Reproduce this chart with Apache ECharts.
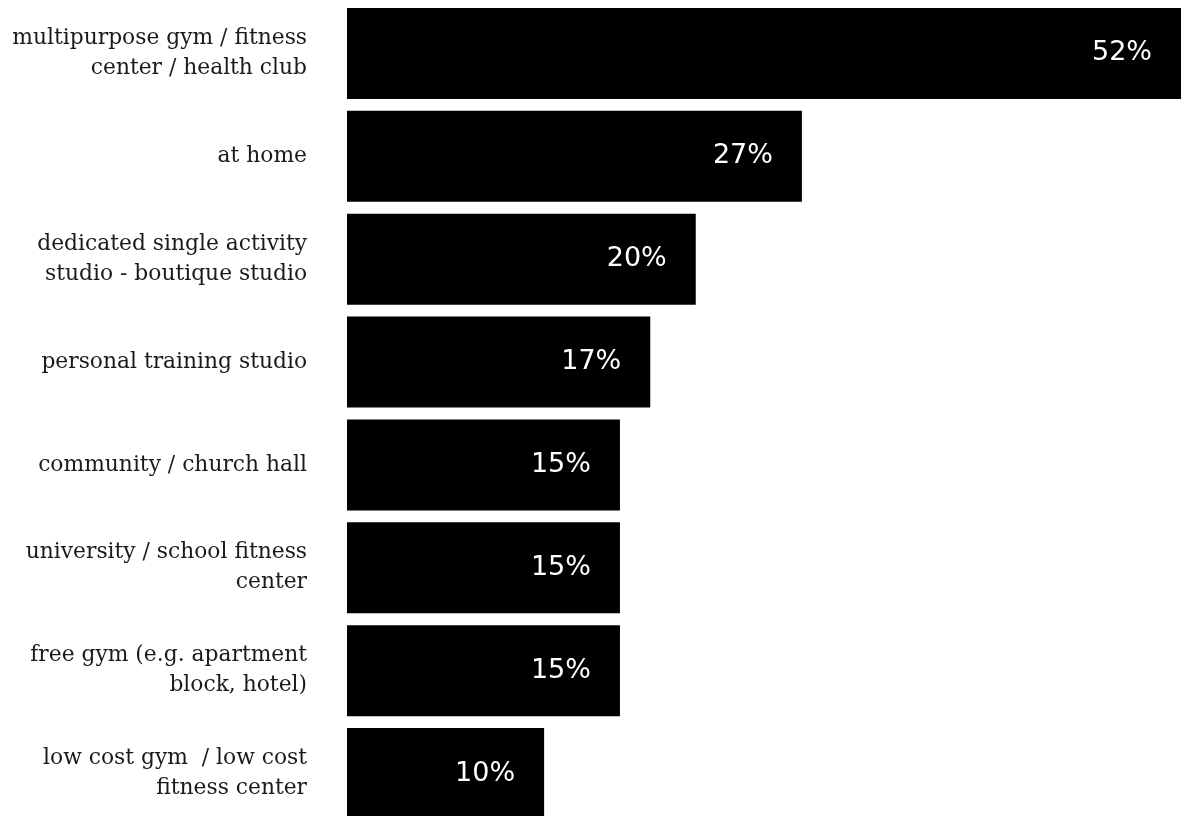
<!DOCTYPE html>
<html>
<head>
<meta charset="utf-8">
<script src="https://cdn.jsdelivr.net/npm/echarts@6/dist/echarts.min.js"></script>
<style>
html,body{margin:0;padding:0;background:#fff;}
#chart{width:1181px;height:816px;}
</style>
</head>
<body>
<div id="chart"></div>
<script>
const categories = [
  "multipurpose gym / fitness\ncenter / health club",
  "at home",
  "dedicated single activity\nstudio - boutique studio",
  "personal training studio",
  "community / church hall",
  "university / school fitness\ncenter",
  "free gym (e.g. apartment\nblock, hotel)",
  "low cost gym  / low cost\nfitness center"
];
const values = [52, 27, 20, 17, 15, 15, 15, 10];

const chart = echarts.init(document.getElementById('chart'), null, {renderer: 'canvas'});
chart.setOption({
  animation: false,
  backgroundColor: '#ffffff',
  grid: {left: 347, right: 0, top: 2, height: 823, containLabel: false, outerBoundsMode: 'none'},
  xAxis: {
    type: 'value',
    min: -3,
    max: 52,
    startValue: -3,
    show: false
  },
  yAxis: {
    type: 'category',
    data: categories,
    inverse: true,
    axisLine: {show: false},
    axisTick: {show: false},
    splitLine: {show: false},
    axisLabel: {
      margin: 40,
      align: 'right',
      color: '#1a1a1a',
      fontFamily: 'DejaVu Serif',
      fontSize: 21.8,
      lineHeight: 30
    }
  },
  series: [{
    type: 'bar',
    data: values,
    barCategoryGap: '11.5%',
    clip: false,
    itemStyle: {color: '#000000'},
    label: {
      show: true,
      position: 'insideRight',
      distance: 29,
      color: '#ffffff',
      fontFamily: 'DejaVu Sans',
      fontSize: 27,
      formatter: p => p.value + '%'
    }
  }]
});
</script>
</body>
</html>
